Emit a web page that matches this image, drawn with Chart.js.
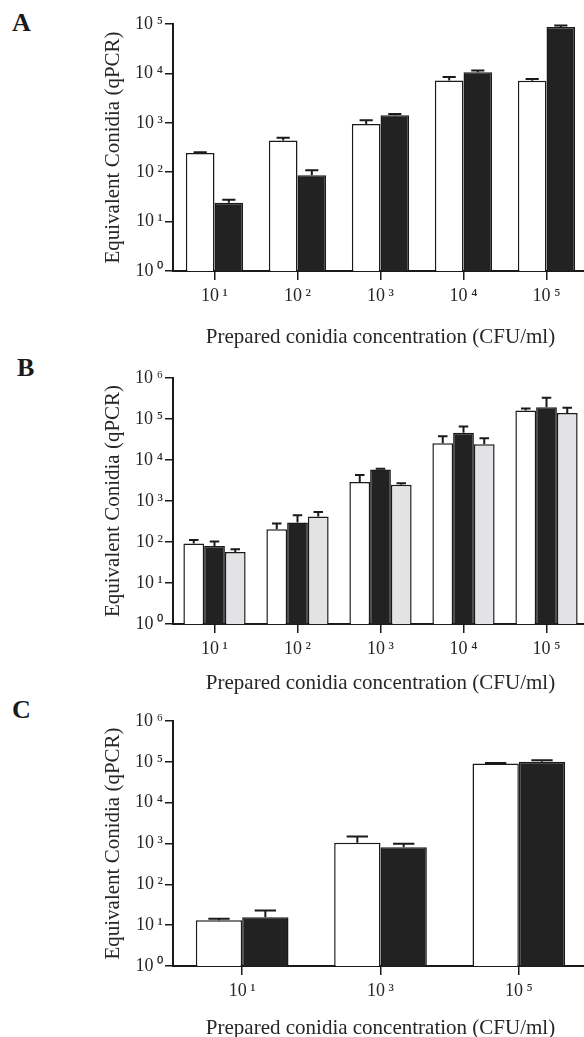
<!DOCTYPE html>
<html lang="en">
<head>
<meta charset="UTF-8">
<title>Equivalent conidia measured by qPCR</title>
<script src="https://cdn.jsdelivr.net/npm/chart.js"></script>
<style>
    html, body { margin: 0; padding: 0; background: #fff; overflow: hidden; }
    body {
        width: 584px;
        height: 1037px;
        position: relative;
        font-family: 'Liberation Serif', 'Times New Roman', serif;
    }
    .panel { position: absolute; left: 0; }
    .letter {
        position: absolute;
        font-weight: bold;
        font-size: 26px;
        line-height: 1;
        color: #1a1a1a;
    }
</style>
</head>
<body>
<div class="letter" style="left:12px; top:10px">A</div>
<div class="letter" style="left:17px; top:355px">B</div>
<div class="letter" style="left:12px; top:697px">C</div>

<canvas id="chartA" class="panel" width="590" height="350" style="top:0px"></canvas>
<canvas id="chartB" class="panel" width="590" height="346" style="top:350px"></canvas>
<canvas id="chartC" class="panel" width="590" height="345" style="top:696px"></canvas>

<script>
// tick labels
const yTicksA = [1, 10, 100, 1000, 10000, 100000];
const yTicksB = [1, 10, 100, 1000, 10000, 100000, 1000000];
const yTicksC = [1, 10, 100, 1000, 10000, 100000, 1000000];
const yLabelsA = ['10\u2009\u2070', '10\u2009\u00b9', '10\u2009\u00b2', '10\u2009\u00b3', '10\u2009\u2074', '10\u2009\u2075'];
const yLabelsB = ['10\u2009\u2070', '10\u2009\u00b9', '10\u2009\u00b2', '10\u2009\u00b3', '10\u2009\u2074', '10\u2009\u2075', '10\u2009\u2076'];
const yLabelsC = yLabelsB;

// prepared concentrations (CFU/ml)
const catsA = ['10\u2009\u00b9', '10\u2009\u00b2', '10\u2009\u00b3', '10\u2009\u2074', '10\u2009\u2075'];
const catsB = ['10\u2009\u00b9', '10\u2009\u00b2', '10\u2009\u00b3', '10\u2009\u2074', '10\u2009\u2075'];
const catsC = ['10\u2009\u00b9', '10\u2009\u00b3', '10\u2009\u2075'];

// panel A: means and upper error (SEM)
const aWhite    = [245, 437, 950, 7200, 7100];
const aWhiteErr = [8, 63, 170, 1250, 600];
const aBlack    = [24, 87, 1420, 10500, 87000];
const aBlackErr = [3.7, 23, 90, 1000, 6000];

// panel B
const bWhite    = [92, 205, 2900, 25700, 161000];
const bWhiteErr = [20, 77, 1400, 12300, 19000];
const bBlack    = [80, 297, 5900, 46000, 194000];
const bBlackErr = [23, 153, 200, 20000, 136000];
const bGray     = [57, 417, 2500, 24300, 141000];
const bGrayErr  = [10, 123, 200, 9700, 46000];

// panel C
const cWhite    = [13.2, 1050, 91000];
const cWhiteErr = [1.2, 430, 2000];
const cBlack    = [15.6, 810, 100000];
const cBlackErr = [7.4, 180, 10000];

const INK = '#1a1a1a';
const TEXT = '#262626';
const FILL_WHITE = '#ffffff';
const FILL_BLACK = '#222222';
const FILL_GRAY = '#e3e3e6';

Chart.defaults.font.family = "'Liberation Serif', 'Times New Roman', serif";
Chart.defaults.color = TEXT;

// upper error bars with a short cap
const errorBars = {
    id: 'errorBars',
    afterDatasetsDraw(chart) {
        const ctx = chart.ctx;
        const yScale = chart.scales.y;
        chart.data.datasets.forEach((ds, i) => {
            const meta = chart.getDatasetMeta(i);
            meta.data.forEach((bar, j) => {
                const top = yScale.getPixelForValue(ds.data[j] + ds.errors[j]);
                const half = bar.width * 0.23;
                ctx.save();
                ctx.strokeStyle = INK;
                ctx.lineWidth = 2;
                ctx.beginPath();
                ctx.moveTo(bar.x, bar.y);
                ctx.lineTo(bar.x, top);
                ctx.moveTo(bar.x - half, top);
                ctx.lineTo(bar.x + half, top);
                ctx.stroke();
                ctx.restore();
            });
        });
    }
};

function barSet(data, errors, fill) {
    return {
        data: data,
        errors: errors,
        backgroundColor: fill,
        borderColor: INK,
        borderWidth: 1.5,
        barPercentage: 1.0
    };
}

function makeChart(id, cats, datasets, yTicks, yLabels, padTop, xHeight, catPct) {
    const ctx = document.getElementById(id).getContext('2d');
    datasets.forEach(d => d.categoryPercentage = catPct);
    return new Chart(ctx, {
        type: 'bar',
        data: { labels: cats, datasets: datasets },
        plugins: [errorBars],
        options: {
            responsive: false,
            animation: false,
            layout: { padding: { left: 101, top: padTop, right: 2, bottom: 0 } },
            plugins: { legend: { display: false }, tooltip: { enabled: false } },
            scales: {
                x: {
                    grid: {
                        display: true,
                        drawOnChartArea: false,
                        drawTicks: true,
                        tickLength: 9,
                        offset: false,
                        color: INK,
                        lineWidth: 1.5
                    },
                    border: { display: true, color: INK, width: 2 },
                    ticks: { font: { size: 18 }, padding: 5, color: TEXT },
                    title: {
                        display: true,
                        text: 'Prepared conidia concentration (CFU/ml)',
                        font: { size: 21 },
                        color: TEXT,
                        padding: { top: 0, bottom: 0 }
                    },
                    afterFit: (scale) => { scale.height = xHeight; }
                },
                y: {
                    type: 'logarithmic',
                    min: yTicks[0],
                    max: yTicks[yTicks.length - 1],
                    grid: {
                        display: true,
                        drawOnChartArea: false,
                        drawTicks: true,
                        tickLength: 8,
                        color: INK,
                        lineWidth: 1.5
                    },
                    border: { display: true, color: INK, width: 2 },
                    ticks: {
                        font: { size: 18 },
                        padding: 2,
                        color: TEXT,
                        callback: (value) => yLabels[yTicks.indexOf(value)]
                    },
                    afterBuildTicks: (scale) => {
                        scale.ticks = yTicks.map(v => ({ value: v }));
                    },
                    title: {
                        display: true,
                        text: 'Equivalent Conidia (qPCR)',
                        font: { size: 21 },
                        color: TEXT,
                        padding: { top: 0, bottom: 0 }
                    },
                    afterFit: (scale) => { scale.width = 72; }
                }
            }
        }
    });
}

makeChart('chartA', catsA, [
    barSet(aWhite, aWhiteErr, FILL_WHITE),
    barSet(aBlack, aBlackErr, FILL_BLACK)
], yTicksA, yLabelsA, 24, 79, 0.69);

makeChart('chartB', catsB, [
    barSet(bWhite, bWhiteErr, FILL_WHITE),
    barSet(bBlack, bBlackErr, FILL_BLACK),
    barSet(bGray, bGrayErr, FILL_GRAY)
], yTicksB, yLabelsB, 28, 72, 0.75);

makeChart('chartC', catsC, [
    barSet(cWhite, cWhiteErr, FILL_WHITE),
    barSet(cBlack, cBlackErr, FILL_BLACK)
], yTicksC, yLabelsC, 25, 75, 0.67);
</script>
</body>
</html>
